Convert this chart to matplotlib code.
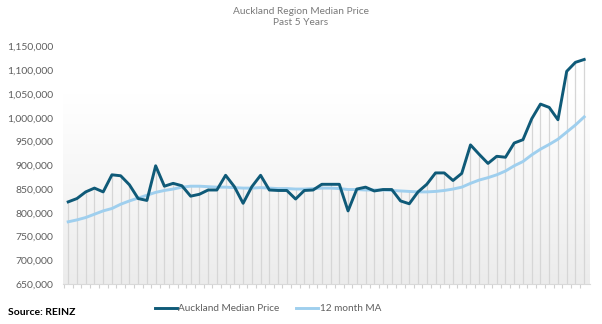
import numpy as np
import matplotlib.pyplot as plt
from matplotlib.ticker import FuncFormatter

# Monthly values (60 months)
median_price = [823000, 830000, 844000, 852000, 844000, 880000, 878000, 859000, 830000, 826000,
                899000, 856000, 862000, 857000, 835000, 839000, 848000, 848000, 879000, 855000,
                820000, 855000, 879000, 848000, 847000, 847000, 829000, 847000, 848000, 860000,
                860000, 860000, 804000, 850000, 854000, 846000, 849000, 849000, 825000, 819000,
                844000, 860000, 884000, 884000, 868000, 883000, 943000, 923000, 904000, 919000,
                917000, 947000, 954000, 998000, 1029000, 1022000, 996000, 1098000, 1117000, 1123000]
moving_avg = [781000, 785000, 790000, 797000, 804000, 809000, 818000, 825000, 831000, 837000,
              843000, 847000, 850000, 854000, 856000, 856000, 855000, 854000, 854000, 853000,
              852000, 852000, 853000, 852000, 851000, 851000, 850000, 850000, 851000, 852000,
              852000, 851000, 849000, 849000, 848000, 848000, 848000, 847000, 846000, 845000,
              844000, 844000, 845000, 847000, 850000, 854000, 862000, 869000, 874000, 880000,
              888000, 899000, 908000, 922000, 934000, 944000, 955000, 970000, 985000, 1002000]
y_ticks = list(range(650000, 1150001, 50000))

dark = "#0f5a78"
light = "#9fcfee"
grey_text = "#5f5f5f"

plt.rcParams['font.family'] = ['Lato', 'DejaVu Sans']

fig = plt.figure(figsize=(6.02, 3.24), dpi=100)
ax = fig.add_axes([0.105, 0.1235, 0.875, 0.7325])

x = np.arange(len(median_price))
ax.set_xlim(-0.57, len(x) - 1 + 0.66)
ax.set_ylim(650000, 1150000)

# background gradient, white at top to light grey at bottom
grad = np.linspace(1, 0, 256).reshape(-1, 1)
ax.imshow(grad, cmap=plt.cm.colors.LinearSegmentedColormap.from_list("bg", ["#ececec", "#ffffff"]),
          extent=[-0.57, len(x) - 1 + 0.66, 650000, 1050000], aspect="auto", origin="upper", zorder=0)

# drop lines
tops = np.maximum(median_price, moving_avg)
ax.vlines(x, 650000, tops, color="#d6d6d6", linewidth=0.9, zorder=1)

ax.plot(x, moving_avg, color=light, linewidth=2.1, label="12 month MA", zorder=3)
ax.plot(x, median_price, color=dark, linewidth=2.1, label="Auckland Median Price", zorder=4)

for s in ["top", "right", "left"]:
    ax.spines[s].set_visible(False)
ax.spines["bottom"].set_color("#d9d9d9")
ax.spines["bottom"].set_linewidth(0.8)

ax.set_yticks(y_ticks)
ax.yaxis.set_major_formatter(FuncFormatter(lambda v, p: f"{int(v):,}"))
ax.tick_params(axis="y", length=0, pad=7, labelsize=7.5, labelcolor=grey_text)
ax.set_xticks(x - 0.5, minor=False)
ax.tick_params(axis="x", length=3, color="#d0d0d0", labelbottom=False)

fig.text(0.5, 0.965, "Auckland Region Median Price", ha="center", va="center",
         fontsize=7.3, color="#7a7a7a")
fig.text(0.5, 0.93, "Past 5 Years", ha="center", va="center", fontsize=7.3, color="#7a7a7a")

fig.text(0.013, 0.037, "Source: REINZ", ha="left", va="center", fontsize=7.5,
         fontweight="bold", color="black")

h, l = ax.get_legend_handles_labels()
fig.legend(h[::-1], l[::-1], loc="center", bbox_to_anchor=(0.445, 0.047), ncol=2, frameon=False,
           fontsize=7.2, labelcolor=grey_text, handlelength=2.2, handletextpad=0.15,
           columnspacing=1.7)

fig.savefig("out.png", dpi=100)
